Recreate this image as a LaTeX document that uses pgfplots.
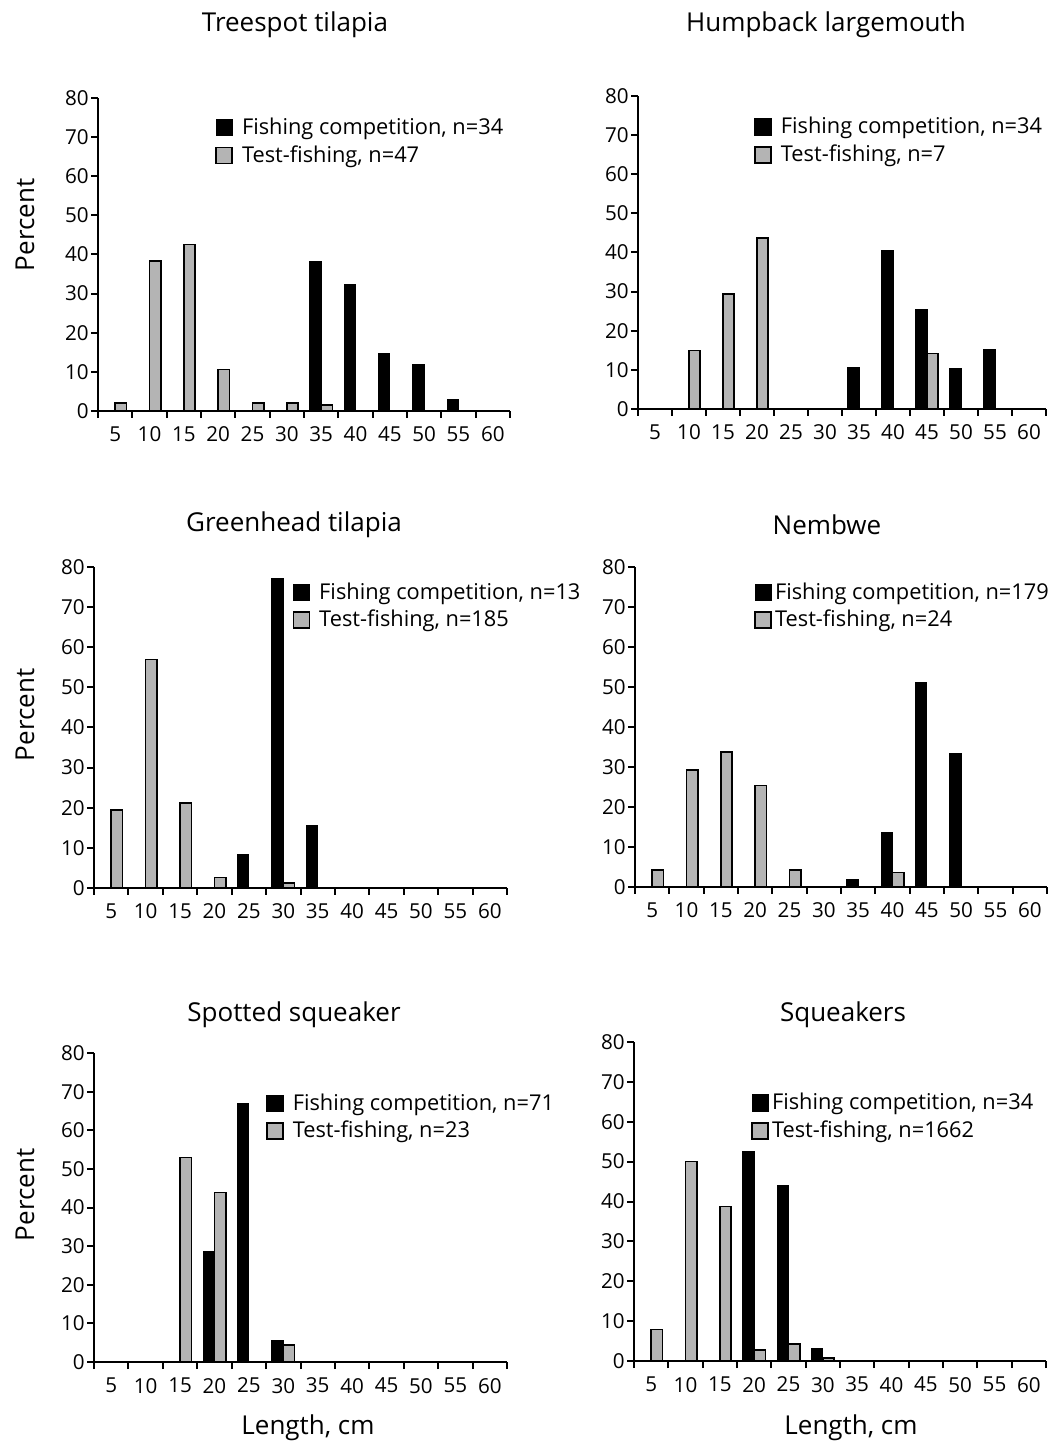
\documentclass[border=0pt]{standalone}
\usepackage{fontspec}
\setmainfont{Open Sans}
\usepackage{pgfplots}
\pgfplotsset{compat=1.18}
\definecolor{bargray}{RGB}{180,180,180}

\pgfplotsset{
  lenpanel/.style={
    scale only axis,
    axis lines=left,
    axis line style={-, line width=1.1pt},
    xmin=2.5, xmax=62.5, ymin=0, ymax=80,
    xtick={2.5,7.5,...,62.5},
    xticklabels={5,10,15,20,25,30,35,40,45,50,55,60},
    x tick label as interval,
    ytick={0,10,...,80},
    tick align=outside,
    major tick length=3.5pt,
    every tick/.style={black, line width=1pt},
    tick label style={font=\fontsize{10.3}{12}\selectfont},
    /pgf/number format/assume math mode=true,
    xticklabel style={yshift=-1pt},
    yticklabel style={inner sep=1pt},
    legend cell align=left,
    legend image code/.code={\draw[##1] (0pt,-4pt) rectangle (8pt,4pt);},
    legend style={draw=none, fill=none, font=\fontsize{10.9}{13}\selectfont,
      anchor=north west, inner xsep=0pt, inner ysep=0pt, row sep=0pt,
      nodes={inner xsep=1pt},
      /tikz/every odd column/.append style={column sep=3.5pt}},
    clip=false,
    anchor=south west,
  },
  tightlegend/.style={legend style={/tikz/every odd column/.append style={column sep=0.5pt}}},
  compbar/.style={ybar, bar width=1.65, bar shift=-0.825, fill=black, draw=black, line width=0.6pt},
  testbar/.style={ybar, bar width=1.65, bar shift=0.825, fill=bargray, draw=black, line width=0.8pt},
}

\begin{document}
\begin{tikzpicture}
\useasboundingbox (0,0) rectangle (525pt,723pt);

% Treespot tilapia
\begin{axis}[lenpanel, at={(49pt,517.5pt)}, width=206pt, height=156.5pt,
  legend style={at={(0.284,0.95)}}]
\addplot[compbar] coordinates {(35,38.2) (40,32.4) (45,14.7) (50,11.8) (55,2.9)};
\addplot[testbar] coordinates {(5,2.1) (10,38.3) (15,42.6) (20,10.6) (25,2.1) (30,2.1) (35,1.5)};
\legend{{Fishing competition, n=34},{Test-fishing, n=47}}
\end{axis}

% Humpback largemouth
\begin{axis}[lenpanel, at={(319pt,518.5pt)}, width=204pt, height=156.5pt,
  legend style={at={(0.284,0.946)}}]
\addplot[compbar] coordinates {(35,10.5) (40,40.5) (45,25.3) (50,10.4) (55,15.2)};
\addplot[testbar] coordinates {(10,14.9) (15,29.4) (20,43.7) (45,14.2)};
\legend{{Fishing competition, n=34},{Test-fishing, n=7}}
\end{axis}

% Greenhead tilapia
\begin{axis}[lenpanel, at={(47pt,279pt)}, width=206.5pt, height=160.5pt,
  legend style={at={(0.48,0.965)}}]
\addplot[compbar] coordinates {(25,8.4) (30,77.1) (35,15.6)};
\addplot[testbar] coordinates {(5,19.5) (10,56.9) (15,21.2) (20,2.6) (30,1.2)};
\legend{{Fishing competition, n=13},{Test-fishing, n=185}}
\end{axis}

% Nembwe
\begin{axis}[lenpanel, tightlegend, at={(317.5pt,279.5pt)}, width=206pt, height=160pt,
  legend style={at={(0.289,0.965)}}]
\addplot[compbar] coordinates {(35,1.9) (40,13.5) (45,51.1) (50,33.4)};
\addplot[testbar] coordinates {(5,4.2) (10,29.2) (15,33.7) (20,25.4) (25,4.2) (40,3.6)};
\legend{{Fishing competition, n=179},{Test-fishing, n=24}}
\end{axis}

% Spotted squeaker
\begin{axis}[lenpanel, at={(47pt,42pt)}, width=206.5pt, height=154.5pt,
  legend style={at={(0.416,0.883)}}]
\addplot[compbar] coordinates {(20,28.5) (25,66.9) (30,5.6)};
\addplot[testbar] coordinates {(15,52.9) (20,43.9) (30,4.4)};
\legend{{Fishing competition, n=71},{Test-fishing, n=23}}
\end{axis}

% Squeakers
\begin{axis}[lenpanel, tightlegend, at={(317pt,42.5pt)}, width=206pt, height=159.5pt,
  legend style={at={(0.284,0.853)}}]
\addplot[compbar] coordinates {(20,52.6) (25,43.9) (30,3.0)};
\addplot[testbar] coordinates {(5,7.9) (10,50.0) (15,38.7) (20,2.8) (25,4.2) (30,0.8)};
\legend{{Fishing competition, n=34},{Test-fishing, n=1662}}
\end{axis}

% panel titles and axis labels
\begin{scope}[every node/.style={font=\fontsize{13}{15}\selectfont, inner sep=0pt}]
\node at (147.5pt,710.5pt) {Treespot tilapia};
\node at (413pt,710.5pt) {Humpback largemouth};
\node at (147pt,460.5pt) {Greenhead tilapia};
\node at (413.5pt,460.5pt) {Nembwe};
\node at (147pt,215.5pt) {Spotted squeaker};
\node at (421.5pt,215.5pt) {Squeakers};
\node[rotate=90] at (12.5pt,610.5pt) {Percent};
\node[rotate=90] at (12.5pt,365.5pt) {Percent};
\node[rotate=90] at (12.5pt,125.5pt) {Percent};
\node at (154pt,9pt) {Length, cm};
\node at (425.5pt,9pt) {Length, cm};
\end{scope}
\end{tikzpicture}
\end{document}
